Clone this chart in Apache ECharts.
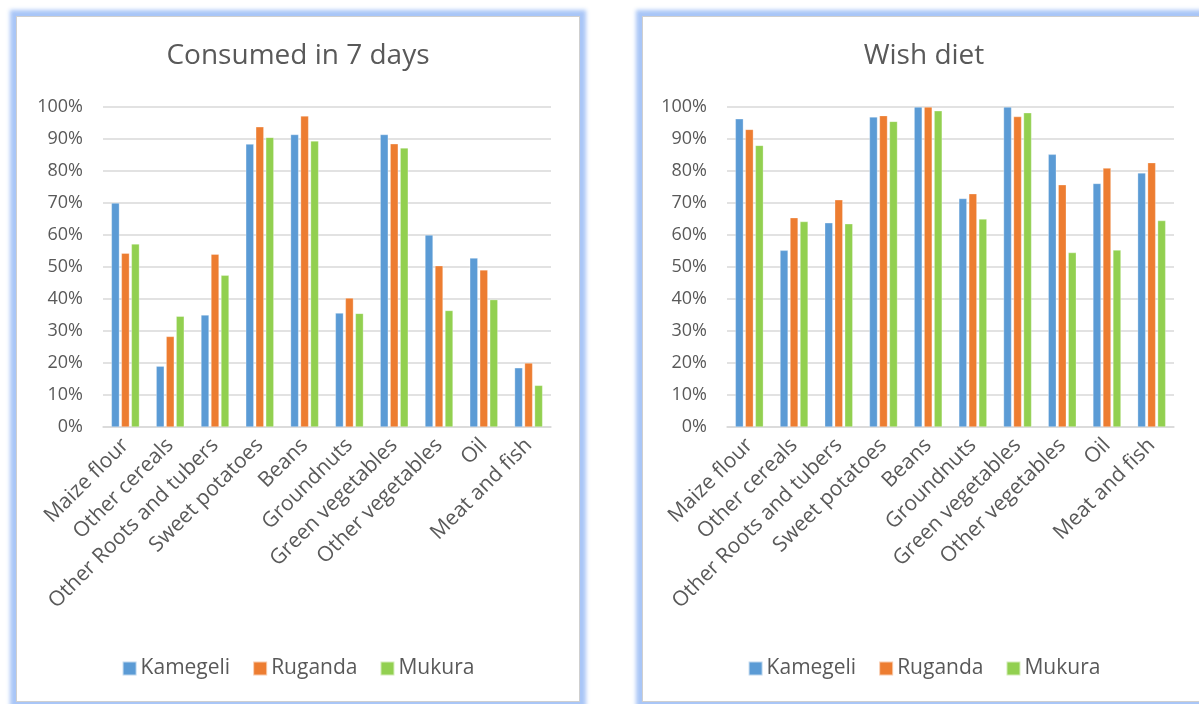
<!DOCTYPE html>
<html>
<head>
<meta charset="utf-8">
<script src="https://cdn.jsdelivr.net/npm/echarts@6/dist/echarts.min.js"></script>
<style>
  body { margin: 0; background: #fff; width: 1199px; height: 704px; overflow: hidden; position: relative; }
  .panel {
    position: absolute; top: 16px; width: 562px; height: 684px;
    border: 1px solid #cfcfcf; background: #fff;
    box-shadow: 0 0 4px 6px rgba(160, 192, 246, 0.9);
  }
  .chart { position: absolute; left: 0; top: 0; width: 562px; height: 684px; }
</style>
</head>
<body>
<div class="panel" style="left:16px"><div id="left" class="chart"></div></div>
<div class="panel" style="left:642px"><div id="right" class="chart"></div></div>
<script>
const categories = ['Maize flour', 'Other cereals', 'Other Roots and tubers', 'Sweet potatoes', 'Beans',
  'Groundnuts', 'Green vegetables', 'Other vegetables', 'Oil', 'Meat and fish']
const seriesNames = ['Kamegeli', 'Ruganda', 'Mukura']
const colors = ['#5B9BD5', '#ED7D31', '#92D050']

// consumed in 7 days (%)
const consumedKamegeli = [70, 19, 35, 88.4, 91.4, 35.6, 91.4, 60, 52.8, 18.5]
const consumedRuganda = [54.3, 28.3, 54, 93.8, 97.2, 40.3, 88.5, 50.4, 49.1, 20]
const consumedMukura = [57.2, 34.6, 47.4, 90.5, 89.4, 35.5, 87.2, 36.4, 39.8, 13]

// wish diet (%)
const wishKamegeli = [96.3, 55.2, 63.8, 96.9, 100, 71.4, 100, 85.2, 76.1, 79.4]
const wishRuganda = [93, 65.4, 71, 97.3, 100, 72.9, 97, 75.7, 80.9, 82.6]
const wishMukura = [88, 64.2, 63.5, 95.5, 98.8, 65, 98.2, 54.5, 55.3, 64.5]

const textColor = '#595959'
const fontFamily = '"Open Sans", "Liberation Sans", sans-serif'

function makeOption(title, data, gridLeft, gridRight) {
  return {
    textStyle: { fontFamily: fontFamily },
    title: {
      text: title, left: 'center', top: 20,
      textStyle: { color: textColor, fontSize: 28, fontWeight: 'normal', fontFamily: fontFamily }
    },
    color: colors,
    legend: {
      data: seriesNames, top: 636, left: 'center',
      icon: 'rect', itemWidth: 14, itemHeight: 14, itemGap: 22,
      textStyle: { color: textColor, fontSize: 21, fontFamily: fontFamily, padding: [0, 0, 0, -1] }
    },
    grid: { left: gridLeft, right: gridRight, top: 90, height: 320 },
    xAxis: {
      type: 'category', data: categories,
      axisLine: { lineStyle: { color: '#d9d9d9', width: 1.5 } },
      axisTick: { show: false },
      axisLabel: { interval: 0, rotate: 45, margin: 15, color: textColor, fontSize: 21, fontFamily: fontFamily }
    },
    yAxis: {
      type: 'value', min: 0, max: 100, interval: 10,
      axisLine: { show: false }, axisTick: { show: false },
      splitLine: { lineStyle: { color: '#d9d9d9', width: 1.5 } },
      axisLabel: { formatter: '{value}%', margin: 20, color: textColor, fontSize: 18, fontFamily: fontFamily }
    },
    series: data.map((vals, i) => ({
      name: seriesNames[i], type: 'bar', data: vals,
      barWidth: 8, barGap: '25%',
      itemStyle: { borderColor: 'rgba(255,255,255,0.6)', borderWidth: 0.5 }
    }))
  }
}

const leftChart = echarts.init(document.getElementById('left'))
leftChart.setOption(makeOption('Consumed in 7 days', [consumedKamegeli, consumedRuganda, consumedMukura], 86, 28))

const rightChart = echarts.init(document.getElementById('right'))
rightChart.setOption(makeOption('Wish diet', [wishKamegeli, wishRuganda, wishMukura], 84, 31))
</script>
</body>
</html>
